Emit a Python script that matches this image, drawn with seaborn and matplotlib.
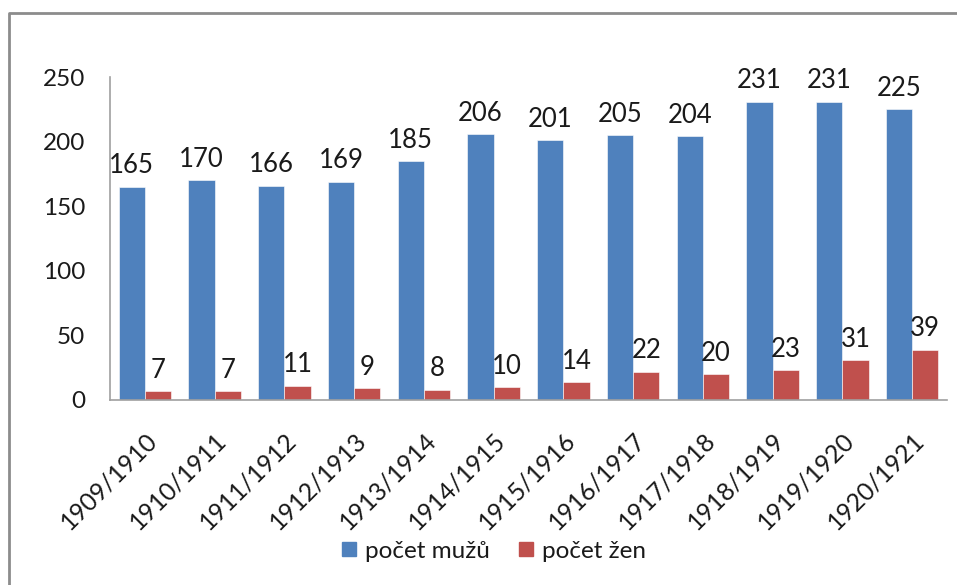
import matplotlib
matplotlib.use("Agg")
import matplotlib.pyplot as plt
import pandas as pd
import seaborn as sns
from matplotlib.lines import Line2D

years = ["1909/1910", "1910/1911", "1911/1912", "1912/1913", "1913/1914",
         "1914/1915", "1915/1916", "1916/1917", "1917/1918", "1918/1919",
         "1919/1920", "1920/1921"]
muzi = [165, 170, 166, 169, 185, 206, 201, 205, 204, 231, 231, 225]
zeny = [7, 7, 11, 9, 8, 10, 14, 22, 20, 23, 31, 39]
series = ["počet mužů", "počet žen"]
colors = ["#4F81BD", "#C0504D"]

df = pd.DataFrame({
    "rok": years * 2,
    "pocet": muzi + zeny,
    "serie": [series[0]] * len(years) + [series[1]] * len(years),
})

sns.set_style("white")
plt.rcParams["font.family"] = ["Lato", "DejaVu Sans"]
txt = "#1a1a1a"

fig = plt.figure(figsize=(9.57, 5.85), dpi=100)
ax = fig.add_axes([110 / 957, 1 - 400 / 585, 837 / 957, 323 / 585])

sns.barplot(data=df, x="rok", y="pocet", hue="serie", palette=colors,
            width=0.75, gap=0, saturation=1, ax=ax, legend=False,
            edgecolor="white", linewidth=0.4)

for cont in ax.containers:
    ax.bar_label(cont, padding=6, fontsize=18.5, color=txt)

ax.set_ylim(0, 250)
ax.set_yticks([0, 50, 100, 150, 200, 250])
ax.set_xlim(-0.5, len(years) - 0.5)
ax.set_xlabel("")
ax.set_ylabel("")
ax.tick_params(axis="y", length=0, pad=18, labelsize=17.5, labelcolor=txt)
ax.tick_params(axis="x", length=0, pad=20, labelsize=17.8, labelcolor=txt)
plt.setp(ax.get_xticklabels(), rotation=45, ha="right", rotation_mode="anchor")

for side in ["top", "right"]:
    ax.spines[side].set_visible(False)
for side in ["left", "bottom"]:
    ax.spines[side].set_color("#a0a0a0")
    ax.spines[side].set_linewidth(1.2)

handles = [Line2D([], [], marker="s", linestyle="", markersize=10.5,
                  markerfacecolor=c, markeredgecolor=c) for c in colors]
fig.legend(handles, series, loc="center", bbox_to_anchor=(493 / 957, 1 - 551 / 585),
           ncol=2, frameon=False, fontsize=17.5, handlelength=0.7,
           handletextpad=0.3, columnspacing=1.15, labelcolor=txt)

# chart frame (top and left edge visible in the reference)
fig.add_artist(Line2D([9 / 957, 9 / 957, 1], [0, 1 - 12.5 / 585, 1 - 12.5 / 585],
                      transform=fig.transFigure, color="#8c8c8c", linewidth=2))

fig.savefig("out.png", dpi=100)
